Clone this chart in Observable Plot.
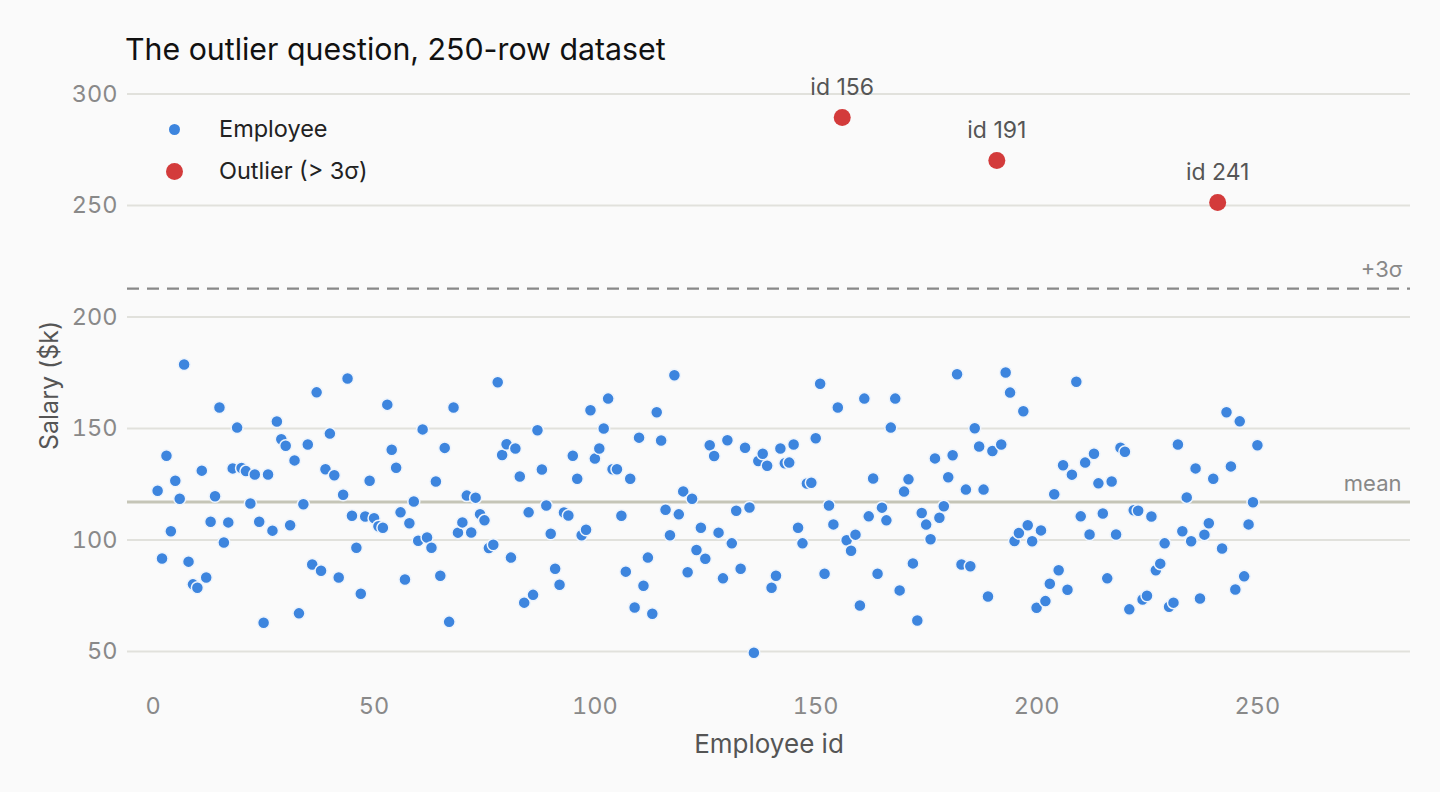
<!DOCTYPE html>
<html>
<head>
<meta charset="utf-8">
<script src="https://cdn.jsdelivr.net/npm/d3@7"></script>
<script src="https://cdn.jsdelivr.net/npm/@observablehq/plot@0.6"></script>
<style>
  html, body { margin: 0; padding: 0; background: #fafafa; }
  #wrap { position: relative; width: 1440px; height: 792px; overflow: hidden; font-family: Inter, "Noto Sans", sans-serif; }
  #title { position: absolute; left: 125px; top: 34px; font-size: 30.3px; line-height: 30px; color: #111; white-space: nowrap; }
  #chart { position: absolute; left: 0; top: 0; }
  .legend-row { position: absolute; left: 0; height: 26px; line-height: 26px; font-size: 23.5px; color: #222; white-space: nowrap; }
  .legend-row .swatch { position: absolute; border-radius: 50%; }
  .legend-row .label { position: absolute; left: 219px; top: 0; }
</style>
</head>
<body>
<div id="wrap">
  <div id="title">The outlier question, 250-row dataset</div>
  <div id="chart"></div>
  <div id="legend"></div>
</div>
<script>
// Salary ($k) of each employee, in id order (id = position + 1)
const salaries = [
  122.1, 91.7, 137.8, 103.9, 126.6, 118.5, 178.7, 90.3, 80.1, 78.6,
  131.1, 83.2, 108.2, 119.6, 159.4, 98.9, 107.9, 132.1, 150.4, 132.3,
  130.9, 116.4, 129.4, 108.2, 62.9, 129.4, 104.2, 153.1, 145.2, 142.3,
  106.6, 135.7, 67.1, 116.0, 142.8, 89.0, 166.2, 86.2, 131.7, 147.7,
  129.0, 83.2, 120.3, 172.4, 110.9, 96.5, 75.9, 110.5, 126.6, 109.8,
  106.2, 105.5, 160.7, 140.5, 132.4, 112.4, 82.3, 107.5, 117.3, 99.7,
  149.6, 101.1, 96.5, 126.2, 84.0, 141.3, 63.3, 159.4, 103.3, 107.9,
  119.9, 103.4, 119.0, 111.6, 108.8, 96.4, 97.9, 170.7, 138.1, 142.9,
  92.1, 141.0, 128.5, 71.9, 112.4, 75.4, 149.2, 131.6, 115.5, 102.8,
  87.1, 79.9, 112.3, 111.0, 137.8, 127.5, 102.1, 104.6, 158.2, 136.5,
  141.0, 150.0, 163.4, 131.7, 131.7, 110.9, 85.8, 127.5, 69.7, 145.9,
  79.5, 92.1, 66.9, 157.3, 144.6, 113.6, 102.1, 173.9, 111.5, 121.8,
  85.5, 118.5, 95.5, 105.5, 91.6, 142.5, 137.7, 103.3, 82.8, 144.7,
  98.5, 113.1, 87.1, 141.4, 114.6, 49.4, 135.4, 138.7, 133.3, 78.6,
  84.0, 141.0, 134.4, 134.7, 142.8, 105.5, 98.5, 125.3, 125.7, 145.6,
  170.1, 84.9, 115.5, 107.0, 159.4, 289.5, 99.9, 95.2, 102.4, 70.6,
  163.4, 110.6, 127.6, 84.9, 114.5, 108.8, 150.4, 163.4, 77.4, 121.7,
  127.2, 89.5, 63.9, 112.1, 106.9, 100.3, 136.6, 110.0, 115.1, 128.1,
  138.0, 174.3, 89.0, 122.6, 88.2, 150.1, 141.9, 122.6, 74.7, 139.9,
  270.2, 142.8, 175.1, 166.1, 99.5, 103.1, 157.7, 106.6, 99.4, 69.6,
  104.3, 72.6, 80.4, 120.5, 86.4, 133.5, 77.7, 129.3, 171.0, 110.6,
  134.7, 102.5, 138.7, 125.4, 111.9, 82.8, 126.2, 102.5, 141.4, 139.6,
  68.9, 113.3, 113.1, 73.3, 75.0, 110.5, 86.4, 89.4, 98.5, 70.1,
  71.9, 142.8, 103.9, 119.1, 99.4, 132.1, 73.8, 102.4, 107.5, 127.5,
  251.3, 96.2, 157.3, 133.0, 77.8, 153.2, 83.7, 107.0, 116.9, 142.5
];

// Employees flagged above the +3σ line
const outlierIds = [156, 191, 241];

// Reference lines ($k)
const meanSalary = 117.0;
const plus3Sigma = 212.7;

// Axis ticks
const xTicks = [0, 50, 100, 150, 200, 250];
const yTicks = [50, 100, 150, 200, 250, 300];

// Legend entries
const legendLabels = ["Employee", "Outlier (> 3σ)"];
const legendColors = ["#3d85de", "#d33b3b"];
const legendRadii = [5.5, 8.5];

const rows = salaries.map((salary, i) => ({ id: i + 1, salary }));
const employees = rows.filter(d => !outlierIds.includes(d.id));
const outliers = rows.filter(d => outlierIds.includes(d.id));

const chart = Plot.plot({
  width: 1440,
  height: 792,
  marginTop: 80,
  marginBottom: 102,
  marginLeft: 127,
  marginRight: 30,
  style: { background: "transparent", fontFamily: "Inter, 'Noto Sans', sans-serif", fontSize: "23.5px", color: "#898989", overflow: "visible" },
  x: { domain: [-5.82, 284.66] },
  y: { domain: [32.51, 306.05] },
  marks: [
    Plot.gridY(yTicks, { stroke: "#e1e1dc", strokeWidth: 2, strokeOpacity: 1 }),
    Plot.axisY(yTicks, { tickSize: 0, tickPadding: 10, label: null }),
    Plot.axisX(xTicks, { tickSize: 0, tickPadding: 7, label: null }),
    Plot.ruleY([meanSalary], { stroke: "#c5c5b7", strokeWidth: 3 }),
    Plot.ruleY([plus3Sigma], { stroke: "#888888", strokeWidth: 2.3, strokeDasharray: "12,8" }),
    Plot.dot(employees, { x: "id", y: "salary", r: 6, fill: "#3d85de", stroke: "#eef4fc", strokeWidth: 1.5 }),
    Plot.dot(outliers, { x: "id", y: "salary", r: 8.5, fill: "#d33b3b" }),
    Plot.text(outliers, { x: "id", y: "salary", text: d => `id ${d.id}`, dy: -30, fill: "#555", fontSize: 23 }),
    Plot.text([plus3Sigma], { y: d => d, text: ["+3σ"], frameAnchor: "right", textAnchor: "end", dx: -8, dy: -19, fill: "#888", fontSize: 22 }),
    Plot.text([meanSalary], { y: d => d, text: ["mean"], frameAnchor: "right", textAnchor: "end", dx: -9, dy: -18, fill: "#888", fontSize: 22 }),
    Plot.text(["Employee id"], { frameAnchor: "bottom", dy: 62, fill: "#555", fontSize: 26 }),
    Plot.text(["Salary ($k)"], { frameAnchor: "left", textAnchor: "middle", dx: -78, rotate: -90, fill: "#555", fontSize: 25 })
  ]
});
document.getElementById("chart").appendChild(chart);

// Legend in the upper-left corner of the plot
const legend = document.getElementById("legend");
const legendTops = [116, 158];
legendLabels.forEach((label, i) => {
  const row = document.createElement("div");
  row.className = "legend-row";
  row.style.top = legendTops[i] + "px";
  row.style.width = "400px";
  const sw = document.createElement("span");
  sw.className = "swatch";
  const r = legendRadii[i];
  sw.style.left = (174 - r) + "px";
  sw.style.top = (13 - r) + "px";
  sw.style.width = (2 * r) + "px";
  sw.style.height = (2 * r) + "px";
  sw.style.background = legendColors[i];
  const tx = document.createElement("span");
  tx.className = "label";
  tx.textContent = label;
  row.appendChild(sw);
  row.appendChild(tx);
  legend.appendChild(row);
});
</script>
</body>
</html>
